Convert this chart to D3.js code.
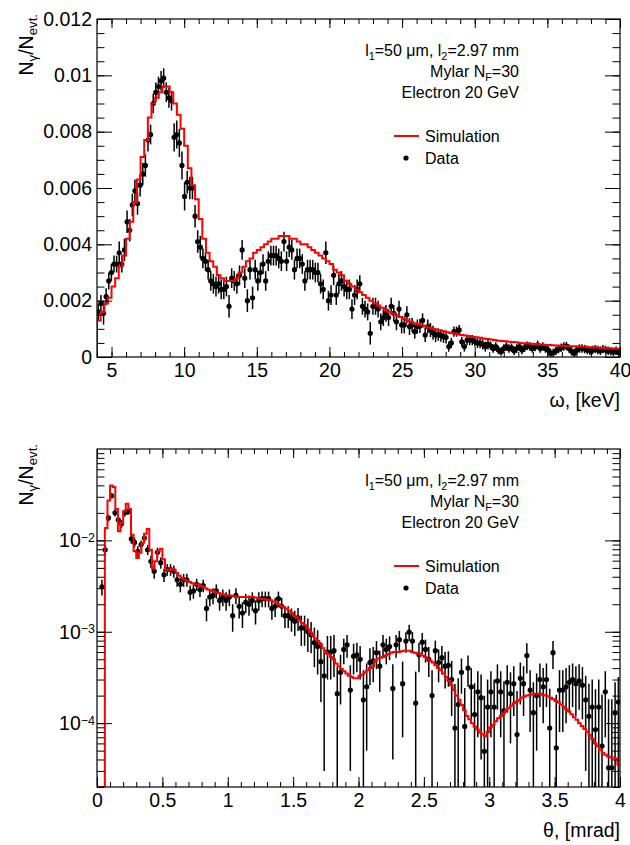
<!DOCTYPE html>
<html>
<head>
<meta charset="utf-8">
<script src="https://cdn.jsdelivr.net/npm/d3@7"></script>
<style>
body { margin: 0; background: #fff; }
svg text { font-family: "Liberation Sans", Arial, Helvetica, sans-serif; fill: #000; }
</style>
</head>
<body>
<div id="chart"></div>
<script>
// ---- energy spectrum (top) ----
// simulation histogram, 0.25 keV bins starting at 4 keV
var omegaSimStart = 4, omegaSimBin = 0.25;
var omegaSim = [
    0.0013, 0.0016, 0.0019, 0.0021, 0.0025, 0.0028, 0.0032, 0.0036,
    0.0042, 0.0048, 0.0055, 0.0063, 0.0071, 0.0077, 0.0085, 0.0090,
    0.0092, 0.0094, 0.0096, 0.0096, 0.0094, 0.0090, 0.0086, 0.0081,
    0.0075, 0.0067, 0.0061, 0.0056, 0.0049, 0.0042, 0.0037, 0.0034,
    0.0032, 0.0029, 0.0028, 0.0027, 0.0027, 0.0027, 0.0028, 0.0030,
    0.0032, 0.0034, 0.0035, 0.0037, 0.0038, 0.0039, 0.0040, 0.0041,
    0.0042, 0.0042, 0.0043, 0.0043, 0.0043, 0.0042, 0.0042, 0.0041,
    0.0040, 0.0040, 0.0039, 0.0038, 0.0037, 0.0036, 0.0035, 0.0034,
    0.0033, 0.0031, 0.0030, 0.0029, 0.0027, 0.0026, 0.0025, 0.0024,
    0.0023, 0.0022, 0.0021, 0.0020, 0.0019, 0.00183, 0.00175, 0.00168,
    0.0016, 0.00154, 0.00148, 0.00142, 0.00136, 0.0013, 0.00125, 0.0012,
    0.00116, 0.00112, 0.00108, 0.00104, 0.0010, 0.00097, 0.00094, 0.00091,
    0.00088, 0.00085, 0.00083, 0.0008, 0.00078, 0.00076, 0.00074, 0.00072,
    0.0007, 0.00068, 0.00066, 0.00064, 0.00062, 0.0006, 0.00058, 0.00057,
    0.00056, 0.00054, 0.00053, 0.00052, 0.0005, 0.00049, 0.00048, 0.00047,
    0.00046, 0.00045, 0.00044, 0.00043, 0.00043, 0.00042, 0.00041, 0.0004,
    0.0004, 0.00039, 0.00038, 0.00038, 0.00037, 0.00036, 0.00036, 0.00035,
    0.00034, 0.00034, 0.00033, 0.00032, 0.00031, 0.0003, 0.0003, 0.00029
];
// measured points, 0.18 keV bins starting at 4 keV
var omegaDataStart = 4, omegaDataBin = 0.18;
var omegaData = [
    0.0016, 0.0019, 0.00155, 0.00214, 0.0027, 0.0030, 0.0033, 0.0033, 0.0037, 0.0033,
    0.0038, 0.0048, 0.0045, 0.0054, 0.0059, 0.00545, 0.0061, 0.0065, 0.0068, 0.0077,
    0.0079, 0.0090, 0.0094, 0.0096, 0.0098, 0.0099, 0.0094, 0.0092, 0.0091, 0.0078,
    0.0079, 0.0076, 0.0068, 0.0057, 0.0062, 0.0060, 0.0060, 0.0050, 0.0041, 0.0039,
    0.0035, 0.0034, 0.0031, 0.0027, 0.0026, 0.0025, 0.0026, 0.0024, 0.0024, 0.0025,
    0.0018, 0.0028, 0.0027, 0.0026, 0.0029, 0.0038, 0.0028, 0.0020, 0.0031, 0.0021,
    0.0031, 0.0027, 0.0030, 0.0033, 0.0027, 0.0034, 0.0036, 0.0036, 0.0036, 0.0035,
    0.0034, 0.0041, 0.0034, 0.0039, 0.0038, 0.0031, 0.0035, 0.0035, 0.0033, 0.0027,
    0.0031, 0.0031, 0.0031, 0.0030, 0.0030, 0.0026, 0.0024, 0.0037, 0.0020, 0.0022,
    0.0029, 0.0022, 0.0026, 0.0027, 0.0025, 0.0024, 0.0024, 0.0017, 0.0022, 0.0024,
    0.0026, 0.0018, 0.0017, 0.0016, 0.00084, 0.0018, 0.0018, 0.0017, 0.00125, 0.0014,
    0.00155, 0.0014, 0.0018, 0.00155, 0.00125, 0.0017, 0.00114, 0.00114, 0.0015, 0.00108,
    0.00114, 0.0009, 0.00108, 0.0011, 0.0013, 0.00078, 0.00108, 0.00096, 0.00086, 0.00078,
    0.0008, 0.00076, 0.00072, 0.0007, 0.00037, 0.0005, 0.0009, 0.0009, 0.00096, 0.00054,
    0.00037, 0.0006, 0.0006, 0.0006, 0.00055, 0.0005, 0.00049, 0.00045, 0.00037, 0.00045,
    0.0004, 0.0003, 0.00037, 0.00025, 0.00019, 0.0003, 0.00037, 0.0003, 0.00033, 0.00022,
    0.0003, 0.00037, 0.00025, 0.00033, 0.0004, 0.00037, 0.0003, 0.00035, 0.00043, 0.0003,
    0.00037, 0.0003, 0.00025, 0.00013, 0.00015, 0.00022, 0.00028, 0.00033, 0.00037, 0.00039,
    0.0003, 0.0002, 0.00013, 0.00025, 0.0003, 0.0003, 0.00028, 0.00025, 0.00022, 0.00025,
    0.00028, 0.00025, 0.00022, 0.00028, 0.00025, 0.00022, 0.0002, 0.00018, 0.00022, 0.00016
];
var omegaErr = [
    0.0003, 0.0003, 0.0004, 0.0003, 0.0003, 0.0003, 0.0003, 0.0003, 0.0004, 0.0003,
    0.0004, 0.0004, 0.0004, 0.0004, 0.0004, 0.0004, 0.0004, 0.0004, 0.0004, 0.0004,
    0.00035, 0.00035, 0.00035, 0.00035, 0.00035, 0.00035, 0.00035, 0.00035, 0.00035, 0.0005,
    0.0005, 0.0005, 0.0005, 0.0005, 0.0004, 0.0004, 0.0004, 0.0004, 0.0004, 0.0004,
    0.00035, 0.00035, 0.00035, 0.00035, 0.00035, 0.00035, 0.00035, 0.00035, 0.00035, 0.00035,
    0.0004, 0.00035, 0.00035, 0.00035, 0.00035, 0.00035, 0.00035, 0.0004, 0.00035, 0.0004,
    0.00035, 0.00035, 0.00035, 0.00035, 0.00035, 0.00035, 0.00035, 0.00035, 0.00035, 0.00035,
    0.00035, 0.00035, 0.00035, 0.00035, 0.00035, 0.00035, 0.00035, 0.00035, 0.00035, 0.00035,
    0.00035, 0.00035, 0.00035, 0.00035, 0.00035, 0.00035, 0.00035, 0.0004, 0.00035, 0.00035,
    0.00035, 0.00035, 0.00035, 0.00035, 0.00035, 0.00035, 0.00035, 0.00035, 0.00035, 0.00035,
    0.0003, 0.0003, 0.0003, 0.0003, 0.0004, 0.0003, 0.0003, 0.0003, 0.0003, 0.0003,
    0.0003, 0.0003, 0.0003, 0.0003, 0.0003, 0.0003, 0.0003, 0.0003, 0.0003, 0.0003,
    0.00025, 0.00025, 0.00025, 0.00025, 0.00025, 0.00025, 0.00025, 0.00025, 0.00025, 0.00025,
    0.00022, 0.00022, 0.00022, 0.00022, 0.00018, 0.00018, 0.00018, 0.00018, 0.00018, 0.00018,
    0.00018, 0.00018, 0.00018, 0.00018, 0.00018, 0.00018, 0.00018, 0.00018, 0.00018, 0.00018,
    0.00015, 0.00015, 0.00015, 0.00015, 0.00015, 0.00015, 0.00015, 0.00015, 0.00015, 0.00015,
    0.00015, 0.00015, 0.00015, 0.00015, 0.00015, 0.00015, 0.00015, 0.00015, 0.00015, 0.00015,
    0.00015, 0.00015, 0.00015, 0.00015, 0.00015, 0.00015, 0.00015, 0.00015, 0.00015, 0.00015,
    0.00015, 0.00015, 0.00015, 0.00015, 0.00015, 0.00015, 0.00015, 0.00015, 0.00015, 0.00015,
    0.00015, 0.00015, 0.00015, 0.00015, 0.00015, 0.00015, 0.00015, 0.00015, 0.00015, 0.00015
];

// ---- angular distribution (bottom) ----
// simulation histogram, 0.02 mrad bins starting at 0
var thetaSimStart = 0, thetaSimBin = 0.02;
var thetaSim = [
    0, 0, 0, 0.0137, 0.0274, 0.0398, 0.0384, 0.0221, 0.0126, 0.0155,
    0.0208, 0.0252, 0.0221, 0.0115, 0.0076, 0.0064, 0.0073, 0.0094, 0.0118, 0.0133,
    0.0079, 0.0049, 0.0059, 0.0076, 0.0081, 0.0062, 0.0048, 0.0047, 0.0049, 0.0048,
    0.0044, 0.0041, 0.0039, 0.0037, 0.0036, 0.0035, 0.0034, 0.0033, 0.0033, 0.0032,
    0.0031, 0.0030, 0.0029, 0.00285, 0.0028, 0.0027, 0.00265, 0.0026, 0.00255, 0.0025,
    0.0025, 0.00248, 0.00245, 0.0024, 0.0024, 0.0024, 0.0024, 0.0024, 0.0024, 0.0024,
    0.00237, 0.00234, 0.0023, 0.00228, 0.00225, 0.00222, 0.0022, 0.00215, 0.0021, 0.002,
    0.0019, 0.00185, 0.00178, 0.0017, 0.0016, 0.0015, 0.00143, 0.00132, 0.00125, 0.00118,
    0.00108, 0.001, 0.00092, 0.00085, 0.00079, 0.00073, 0.00066, 0.0006, 0.00057, 0.00053,
    0.0005, 0.00045, 0.00042, 0.00039, 0.00037, 0.00035, 0.00033, 0.00032, 0.00031, 0.00031,
    0.00033, 0.00034, 0.00036, 0.00038, 0.0004, 0.00042, 0.00048, 0.00051, 0.00052, 0.00053,
    0.00055, 0.00057, 0.00059, 0.0006, 0.0006, 0.0006, 0.00061, 0.00062, 0.00062, 0.00062,
    0.0006, 0.00059, 0.00058, 0.00057, 0.00055, 0.00053, 0.0005, 0.00048, 0.00046, 0.00043,
    0.0004, 0.00038, 0.00035, 0.00032, 0.00029, 0.00026, 0.00023, 0.0002, 0.00018, 0.000158,
    0.000138, 0.00012, 0.00011, 0.0001, 0.000092, 0.000085, 0.000079, 0.000075, 0.000072, 0.00008,
    0.00009, 0.000096, 0.000105, 0.000113, 0.00012, 0.000128, 0.000138, 0.000147, 0.000155, 0.000165,
    0.000173, 0.00018, 0.00019, 0.000196, 0.0002, 0.000204, 0.000207, 0.00021, 0.00021, 0.00021,
    0.000205, 0.0002, 0.000197, 0.00019, 0.000183, 0.000175, 0.000168, 0.00016, 0.00015, 0.000142,
    0.000134, 0.000125, 0.000116, 0.000109, 0.0001, 0.000093, 0.000086, 0.00008, 0.000074, 0.000067,
    0.00006, 0.000056, 0.000051, 0.000047, 0.000045, 0.000043, 0.000042, 0.000042, 0.000041, 0.000035
];
// measured points, 0.025 mrad bins starting at 0 (null = no point)
var thetaDataStart = 0, thetaDataBin = 0.025;
var thetaData = [
    null, 0.0031, 0.0079, 0.0176, 0.0308, 0.020, 0.0168, 0.0152, 0.020, 0.0207,
    0.0104, 0.0095, 0.0076, 0.009, 0.0106, 0.0079, 0.0059, 0.0046, 0.0074, 0.0057,
    0.0042, 0.0048, 0.0048, 0.0046, 0.0037, 0.0033, 0.0037, 0.0037, 0.0027, 0.0028,
    0.0033, 0.0029, 0.0032, 0.0018, 0.0024, 0.0025, 0.0028, 0.0022, 0.0024, 0.0022,
    0.0024, 0.0015, 0.0025, 0.0019, 0.0016, 0.0021, 0.0020, 0.0022, 0.0017, 0.0022,
    0.0023, 0.0023, 0.0023, 0.0018, 0.0019, 0.0023, 0.0019, 0.0015, 0.0015, 0.0014,
    0.0013, 0.00142, 0.0011, 0.0011, 0.001, 0.00093, 0.00076, 0.00069, 0.00047, 0.00033,
    0.0006, 0.0006, 0.00062, 0.00021, 0.00036, 0.00064, 0.00072, 0.00023, 0.00054, 0.00056,
    0.0005, 0.00018, 0.00025, 0.00046, 0.00048, 0.00059, 0.00042, 0.00072, 0.00064, 0.00069,
    0.00024, 0.00072, 0.00082, 0.00027, 0.00079, 0.00099, 0.00079, 0.000166, 0.00056, 0.00077,
    0.00064, 0.0005, 0.0002, 0.00062, 0.00046, 0.00052, 0.00042, 0.00043, 0.0003, 0.0000885,
    0.00016, 0.00036, 0.000092, 0.0004, 0.00025, 0.000124, 0.00022, 0.00019, 0.0000492, 0.00015,
    0.00022, 0.00015, 0.00029, 0.00022, 0.000137, 0.00028, 0.00021, 0.00027, 0.000075, 0.00031,
    0.00027, 0.00055, 0.00023, 0.00013, 0.0002, 0.0003, 0.00025, 0.0003, 0.0000885, 0.00059,
    0.0000537, 0.00023, 0.00023, 0.00025, 0.00028, 0.0003, 0.00027, 0.00029, 0.00026, 0.00018,
    0.000119, 0.00015, 0.000085, 0.00015, 0.0000561, 0.00022, 0.0000324, 0.0000324, 0.00013, 0.00017
];
var thetaErr = [
    0, 0.0006, 0.001, 0.0015, 0.002, 0.0018, 0.0016, 0.0015, 0.0018, 0.0018,
    0.0012, 0.0011, 0.001, 0.001, 0.0011, 0.001, 0.0009, 0.0008, 0.0009, 0.0008,
    0.0007, 0.0007, 0.0007, 0.0007, 0.0006, 0.0006, 0.0006, 0.0006, 0.0005, 0.0005,
    0.0005, 0.0005, 0.0005, 0.0005, 0.0005, 0.0005, 0.0005, 0.0005, 0.0005, 0.0005,
    0.0005, 0.0005, 0.0005, 0.0005, 0.0005, 0.0005, 0.0005, 0.0005, 0.0005, 0.0005,
    0.00045, 0.00045, 0.00045, 0.00045, 0.00045, 0.00045, 0.00045, 0.0004, 0.0004, 0.0004,
    0.0004, 0.0004, 0.0004, 0.0004, 0.0004, 0.00035, 0.00035, 0.00035, 0.0003, 0.0003,
    0.0003, 0.0003, 0.0003, 0.0002, 0.0002, 0.0002, 0.0002, 0.0002, 0.0002, 0.0002,
    0.0002, 0.0002, 0.0002, 0.0002, 0.0002, 0.0002, 0.0002, 0.0002, 0.0002, 0.0002,
    0.0002, 0.0002, 0.0002, 0.0002, 0.0002, 0.0002, 0.0002, 0.0002, 0.0002, 0.0002,
    0.00018, 0.00018, 0.00018, 0.00018, 0.00018, 0.00018, 0.00018, 0.00018, 0.00018, 0.00018,
    0.00015, 0.00015, 0.00015, 0.00015, 0.00015, 0.00015, 0.00015, 0.00015, 0.00015, 0.00015,
    0.00015, 0.00015, 0.00015, 0.00015, 0.00015, 0.00015, 0.00015, 0.00015, 0.00015, 0.00015,
    0.00015, 0.0002, 0.00015, 0.00015, 0.00015, 0.00015, 0.00015, 0.00015, 0.00015, 0.0002,
    0.00015, 0.00015, 0.00015, 0.00015, 0.00015, 0.00015, 0.00015, 0.00015, 0.00015, 0.00015,
    0.00015, 0.00015, 0.00015, 0.00015, 0.00015, 0.00015, 0.00015, 0.00015, 0.00015, 0.00015
];

// ticks and labels
var omegaTicks = [5, 10, 15, 20, 25, 30, 35, 40];
var omegaYTicks = [0, 0.002, 0.004, 0.006, 0.008, 0.01, 0.012];
var thetaTicks = [0, 0.5, 1, 1.5, 2, 2.5, 3, 3.5, 4];
var thetaYTicks = [1e-4, 1e-3, 1e-2];
var legendLabels = ["Simulation", "Data"];
// [text, "sub"/"sup"] pieces
var infoLine1 = [["l"], ["1", "sub"], ["=50 \u03bcm, l"], ["2", "sub"], ["=2.97 mm"]];
var infoLine2 = [["Mylar N"], ["F", "sub"], ["=30"]];
var infoLine3 = [["Electron 20 GeV"]];
var yTitle = [["N"], ["\u03b3", "sub"], ["/N"], ["evt.", "sub"]];

var W = 630, H = 845;
var panelLeft = 97, panelWidth = 523, panelHeight = 338;
var fontFamily = '"Liberation Sans", Arial, Helvetica, sans-serif';

var svg = d3.select("#chart").append("svg")
    .attr("width", W)
    .attr("height", H);

function richText(parent, x, y, parts, size, anchor) {
    var t = parent.append("text")
        .attr("x", x)
        .attr("y", y)
        .attr("font-size", size)
        .attr("text-anchor", anchor);
    var shift = 0;
    parts.forEach(function(p) {
        var s = p[1] === "sub" ? 4 : (p[1] === "sup" ? -8 : 0);
        var ts = t.append("tspan").attr("dy", s - shift).text(p[0]);
        if (p[1]) ts.attr("font-size", size * 0.68);
        shift = s;
    });
    return t;
}

function drawPanel(p) {
    var g = svg.append("g")
        .attr("transform", "translate(" + panelLeft + "," + p.top + ")");

    var x = d3.scaleLinear().domain(p.xDomain).range([0, panelWidth]);
    var y = p.log
        ? d3.scaleLog().domain(p.yDomain).range([panelHeight, 0])
        : d3.scaleLinear().domain(p.yDomain).range([panelHeight, 0]);
    var yMin = p.yDomain[0];
    function yPos(v) {
        return v > yMin ? Math.max(0, y(v)) : panelHeight;
    }

    var clipId = "clip" + p.top;
    g.append("clipPath").attr("id", clipId)
        .append("rect")
        .attr("width", panelWidth)
        .attr("height", panelHeight);
    var plot = g.append("g").attr("clip-path", "url(#" + clipId + ")");

    // data points with error bars
    var pts = [];
    p.data.forEach(function(v, i) {
        if (v === null) return;
        pts.push({x: p.dataStart + (i + 0.5) * p.dataBin, v: v, e: p.err[i]});
    });
    plot.selectAll(".err")
        .data(pts)
        .enter().append("line")
        .attr("class", "err")
        .attr("x1", function(d) { return x(d.x); })
        .attr("x2", function(d) { return x(d.x); })
        .attr("y1", function(d) { return yPos(d.v + d.e); })
        .attr("y2", function(d) { return yPos(d.v - d.e); })
        .attr("stroke", "#000")
        .attr("stroke-width", 1.5);
    plot.selectAll(".dot")
        .data(pts)
        .enter().append("circle")
        .attr("class", "dot")
        .attr("cx", function(d) { return x(d.x); })
        .attr("cy", function(d) { return yPos(d.v); })
        .attr("r", 2.6)
        .attr("fill", "#000");

    // simulation step histogram
    var steps = [[x(p.simStart), panelHeight]];
    p.sim.forEach(function(v, i) {
        var x0 = x(p.simStart + i * p.simBin), x1 = x(p.simStart + (i + 1) * p.simBin);
        steps.push([x0, yPos(v)]);
        steps.push([x1, yPos(v)]);
    });
    plot.append("path")
        .attr("d", d3.line()(steps))
        .attr("fill", "none")
        .attr("stroke", "#ff0000")
        .attr("stroke-width", 2);

    // axes: ticks point into the frame
    var fontSize = 19.5;
    function clean(sel) {
        sel.select(".domain").remove();
        sel.selectAll(".tick line").attr("stroke", "#000");
        sel.attr("font-size", fontSize).attr("font-family", fontFamily);
    }
    g.append("g")
        .attr("transform", "translate(0," + panelHeight + ")")
        .call(d3.axisBottom(x).tickValues(p.xMinor).tickSize(-5).tickFormat(""))
        .call(clean);
    g.append("g")
        .attr("transform", "translate(0," + panelHeight + ")")
        .call(d3.axisBottom(x).tickValues(p.xTicks).tickSize(-10).tickPadding(6)
            .tickFormat(function(d) { return String(d); }))
        .call(clean);
    g.append("g")
        .call(d3.axisTop(x).tickValues(p.xMinor).tickSize(-5).tickFormat(""))
        .call(clean);
    g.append("g")
        .call(d3.axisTop(x).tickValues(p.xTicks).tickSize(-9).tickFormat(""))
        .call(clean);

    g.append("g")
        .call(d3.axisLeft(y).tickValues(p.yMinor).tickSize(-7.5).tickFormat(""))
        .call(clean);
    var yAx = g.append("g")
        .call(d3.axisLeft(y).tickValues(p.yTicks).tickSize(-15).tickPadding(p.log ? 2 : 5)
            .tickFormat(function(d) { return p.log ? "" : String(+d.toFixed(3)); }))
        .call(clean);
    if (p.log) {
        yAx.selectAll(".tick text").each(function(d) {
            var t = d3.select(this);
            t.append("tspan").text("10");
            t.append("tspan")
                .attr("dy", "-0.42em")
                .attr("font-size", 12.5)
                .text("\u2212" + Math.round(-Math.log10(d)));
        });
    }
    g.append("g")
        .attr("transform", "translate(" + panelWidth + ",0)")
        .call(d3.axisRight(y).tickValues(p.yMinor).tickSize(-7.5).tickFormat(""))
        .call(clean);
    g.append("g")
        .attr("transform", "translate(" + panelWidth + ",0)")
        .call(d3.axisRight(y).tickValues(p.yTicks).tickSize(-15).tickFormat(""))
        .call(clean);

    // frame
    g.append("rect")
        .attr("width", panelWidth)
        .attr("height", panelHeight)
        .attr("fill", "none")
        .attr("stroke", "#000")
        .attr("stroke-width", 1.2);

    // axis titles
    g.append("text")
        .attr("x", panelWidth)
        .attr("y", panelHeight + 50)
        .attr("font-size", fontSize)
        .attr("text-anchor", "end")
        .text(p.xTitle);
    var yt = g.append("g")
        .attr("transform", "translate(-64,-5) rotate(-90)");
    richText(yt, 0, 0, yTitle, fontSize, "end");

    // info text
    richText(g, 422, 37, infoLine1, 16, "end");
    richText(g, 422, 58, infoLine2, 16, "end");
    richText(g, 422, 79, infoLine3, 16, "end");

    // legend
    g.append("line")
        .attr("x1", 297).attr("x2", 322)
        .attr("y1", 117).attr("y2", 117)
        .attr("stroke", "#ff0000")
        .attr("stroke-width", 2);
    g.append("text")
        .attr("x", 328).attr("y", 122.5)
        .attr("font-size", 16)
        .text(legendLabels[0]);
    g.append("circle")
        .attr("cx", 309).attr("cy", 139)
        .attr("r", 2.6)
        .attr("fill", "#000");
    g.append("text")
        .attr("x", 328).attr("y", 144.5)
        .attr("font-size", 16)
        .text(legendLabels[1]);
}

// minor tick positions
var omegaMinor = d3.range(4, 40.001, 1);
var omegaYMinor = d3.range(0, 0.0121, 0.0005);
var thetaMinor = d3.range(0, 4.001, 0.1);
var thetaYMinor = [];
[-5, -4, -3, -2].forEach(function(e) {
    for (var m = 1; m <= 9; m++) {
        var v = m * Math.pow(10, e);
        if (v >= 2e-5 && v <= 0.1) thetaYMinor.push(v);
    }
});

drawPanel({
    top: 19,
    xDomain: [4, 40], yDomain: [0, 0.012], log: false,
    xTicks: omegaTicks, xMinor: omegaMinor,
    yTicks: omegaYTicks, yMinor: omegaYMinor,
    sim: omegaSim, simStart: omegaSimStart, simBin: omegaSimBin,
    data: omegaData, err: omegaErr, dataStart: omegaDataStart, dataBin: omegaDataBin,
    xTitle: "\u03c9, [keV]"
});

drawPanel({
    top: 449,
    xDomain: [0, 4], yDomain: [2e-5, 0.1], log: true,
    xTicks: thetaTicks, xMinor: thetaMinor,
    yTicks: thetaYTicks, yMinor: thetaYMinor,
    sim: thetaSim, simStart: thetaSimStart, simBin: thetaSimBin,
    data: thetaData, err: thetaErr, dataStart: thetaDataStart, dataBin: thetaDataBin,
    xTitle: "\u03b8, [mrad]"
});
</script>
</body>
</html>
